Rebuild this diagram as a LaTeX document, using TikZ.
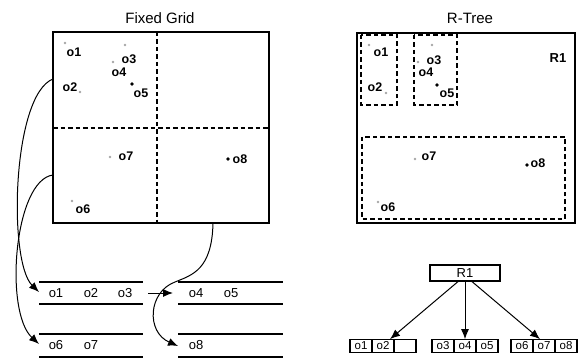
\documentclass[tikz,border=0pt]{standalone}
\usepackage{fontspec}
\setmainfont{Liberation Sans}
\usetikzlibrary{arrows.meta,calc}
\begin{document}
\begin{tikzpicture}[x=1pt,y=-1pt,
  titletext/.style={font=\fontsize{15}{15}\selectfont, inner sep=0},
  ptlabel/.style={font=\bfseries\fontsize{12.5}{13}\selectfont, inner sep=0},
  lstlabel/.style={font=\fontsize{13}{13}\selectfont, inner sep=0},
  faintdot/.style={fill=black!35, draw=none},
  blackdot/.style={fill=black, draw=none},
  griddash/.style={dash pattern=on 4.5pt off 3pt, line width=1.5pt},
  boxline/.style={line width=1.5pt},
  listline/.style={line width=1.3pt},
  arr/.style={-{Latex[length=10pt,width=8pt]}, line width=1pt},
  cell/.style={draw, line width=1.2pt, minimum width=22pt, minimum height=12.5pt, inner sep=0, font=\fontsize{11.5}{12}\selectfont}
]
\useasboundingbox (0,0) rectangle (578,358);

% ---------------- Fixed Grid ----------------
\node[titletext] (tfg) at (160,18) {Fixed Grid};
\draw[boxline] (53,32) rectangle (269,223);
\draw[griddash] (157,32) -- (157,223);
\draw[griddash] (53,128) -- (269,128);

\fill[faintdot] (65,43) circle (1.3);
\fill[faintdot] (125,45) circle (1.3);
\fill[faintdot] (113,62) circle (1.3);
\fill[faintdot] (80,92) circle (1.3);
\fill[blackdot] (132,84) circle (1.8);
\fill[faintdot] (110,157) circle (1.3);
\fill[blackdot] (228,159) circle (1.9);
\fill[faintdot] (72,201) circle (1.3);

\node[ptlabel] (g-o1) at (74,52) {o1};
\node[ptlabel] (g-o3) at (129,59) {o3};
\node[ptlabel] (g-o4) at (119,72) {o4};
\node[ptlabel] (g-o2) at (70,87) {o2};
\node[ptlabel] (g-o5) at (141,93) {o5};
\node[ptlabel] (g-o7) at (126,156) {o7};
\node[ptlabel] (g-o8) at (240,159) {o8};
\node[ptlabel] (g-o6) at (83,209) {o6};

% ---------------- Lists ----------------
\draw[listline] (39,282) -- (143,282);
\draw[listline] (39,304) -- (143,304);
\draw[listline] (39,334) -- (143,334);
\draw[listline] (39,357) -- (143,357);
\draw[listline] (178,282) -- (283,282);
\draw[listline] (178,304) -- (283,304);
\draw[listline] (178,334) -- (283,334);
\draw[listline] (178,357) -- (283,357);

\node[lstlabel] (l-o1) at (56,293) {o1};
\node[lstlabel] (l-o2) at (91,293) {o2};
\node[lstlabel] (l-o3) at (125,293) {o3};
\node[lstlabel] (l-o4) at (196,293) {o4};
\node[lstlabel] (l-o5) at (231,293) {o5};
\node[lstlabel] (l-o6) at (56,345) {o6};
\node[lstlabel] (l-o7) at (91,345) {o7};
\node[lstlabel] (l-o8) at (196,345) {o8};

\coordinate (c1s) at (53,79);
\coordinate (c2s) at (53,175);
\coordinate (c3s) at (213,223);
\coordinate (c3m) at (175,282);
\coordinate (row1in) at (39,292);
\coordinate (row2in) at (39,344);
\coordinate (row4in) at (178,346);
\coordinate (nxs) at (148,293);
\coordinate (nxe) at (173,293);

\draw[arr] (c1s) .. controls (12,95) and (8,262) .. (row1in);
\draw[arr] (c2s) .. controls (14,180) and (4,312) .. (row2in);
\draw[arr] (c3s) .. controls (212,270) and (192,275) .. (c3m)
               .. controls (148,292) and (146,332) .. (row4in);
\draw[arr] (nxs) -- (nxe);

% ---------------- R-Tree ----------------
\node[titletext] (trt) at (470,18) {R-Tree};
\draw[boxline] (357,33) rectangle (575,223);
\draw[griddash] (361,35) rectangle (397,105);
\draw[griddash] (414,35) rectangle (457,105);
\draw[griddash] (362,137) rectangle (565,219);
\node[font=\bfseries\fontsize{13}{13}\selectfont, inner sep=0] (r1lab) at (558,58) {R1};

\fill[faintdot] (369,45) circle (1.3);
\fill[faintdot] (432,45) circle (1.3);
\fill[faintdot] (418,62) circle (1.3);
\fill[faintdot] (386,93) circle (1.3);
\fill[blackdot] (437,85) circle (1.8);
\fill[faintdot] (415,159) circle (1.3);
\fill[blackdot] (527,165) circle (1.9);
\fill[faintdot] (378,202) circle (1.3);

\node[ptlabel] (r-o1) at (381,52) {o1};
\node[ptlabel] (r-o3) at (434,60) {o3};
\node[ptlabel] (r-o4) at (426,72) {o4};
\node[ptlabel] (r-o2) at (375,87) {o2};
\node[ptlabel] (r-o5) at (447,93) {o5};
\node[ptlabel] (r-o7) at (429,156) {o7};
\node[ptlabel] (r-o8) at (538,163) {o8};
\node[ptlabel] (r-o6) at (388,207) {o6};

% ---------------- Tree ----------------
\node[draw, line width=1.2pt, minimum width=70pt, minimum height=16pt, inner sep=0,
      font=\fontsize{13}{13}\selectfont] (r1) at (465,273) {R1};

\node[cell] (c11) at (361,346) {o1};
\node[cell] (c12) at (383,346) {o2};
\node[cell] (c13) at (405,346) {};
\node[cell] (c21) at (443,346) {o3};
\node[cell] (c22) at (465,346) {o4};
\node[cell] (c23) at (487,346) {o5};
\node[cell] (c31) at (522,346) {o6};
\node[cell] (c32) at (544,346) {o7};
\node[cell] (c33) at (566,346) {o8};

\draw[arr] ($(r1.south)+(-7,0)$) -- ($(c12.north)+(7,0)$);
\draw[arr] (r1.south) -- (c22.north);
\draw[arr] ($(r1.south)+(7,0)$) -- ($(c32.north)+(-4,0)$);
\end{tikzpicture}
\end{document}
